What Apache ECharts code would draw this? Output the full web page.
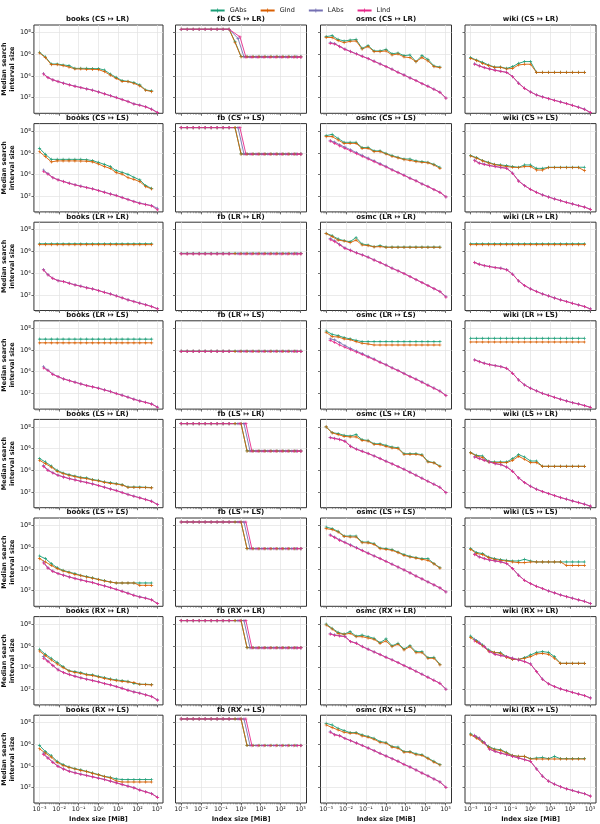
<!DOCTYPE html>
<html>
<head>
<meta charset="utf-8">
<script src="https://cdn.jsdelivr.net/npm/echarts@6/dist/echarts.min.js"></script>
<style>
html, body { margin: 0; padding: 0; background: #fff; }
#main { width: 600px; height: 824px; }
</style>
</head>
<body>
<div id="main"></div>
<script>
// index sizes [MiB]
var xsG = [0.001, 0.002, 0.004, 0.008, 0.016, 0.032, 0.064, 0.128, 0.256, 0.512, 1.024, 2.048, 4.096, 8.192, 16.384, 32.768, 65.536, 131.072, 262.144, 524.288, 1048.576];
var xsL = [0.0016, 0.0027, 0.0048, 0.0088, 0.017, 0.033, 0.065, 0.129, 0.257, 0.513, 1.025, 2.05, 4.1, 8.19, 16.4, 32.8, 65.5, 131, 262, 524, 1048];
var xsFbLAbs = [0.001, 0.002, 0.004, 0.008, 0.016, 0.032, 0.064, 0.128, 0.256, 0.72, 1.44, 2.9, 5.8, 11.5, 23, 46, 92, 184, 368, 620, 1048.576];
var xsFbLInd = [0.001, 0.002, 0.004, 0.008, 0.016, 0.032, 0.064, 0.128, 0.256, 0.9, 1.8, 3.6, 7.2, 14.4, 29, 58, 115, 230, 460, 720, 1048.576];

var xTicks = [0.001, 0.01, 0.1, 1, 10, 100, 1000];
var yTicks = [100, 1e4, 1e6, 1e8];

// ---- books ----
var books_CS_LR_GAbs = [1.5e6, 5.6e5, 1.26e5, 1.26e5, 1.02e5, 8.9e4, 5.0e4, 5.0e4, 5.0e4, 4.7e4, 4.7e4, 3.5e4, 1.5e4, 7.4e3, 3.7e3, 3.2e3, 2.4e3, 1.5e3, 5.1e2, 4.2e2];
var books_CS_LR_GInd = [1.3e6, 4.8e5, 1.1e5, 1.1e5, 8.9e4, 6.6e4, 4.4e4, 4.4e4, 4.1e4, 4.1e4, 3.8e4, 2.5e4, 1.2e4, 6.0e3, 3.2e3, 3.0e3, 2.1e3, 1.2e3, 4.8e2, 3.6e2];
var books_CS_LR_LAbs = [1.6e4, 7.2e3, 4.4e3, 3.1e3, 2.2e3, 1.55e3, 1.15e3, 8.6e2, 6.5e2, 4.9e2, 3.4e2, 2.3e2, 1.55e2, 1.05e2, 68, 45, 27, 21, 14.5, 9, 4.4];
var books_CS_LR_LInd = [1.5e4, 6.9e3, 4.3e3, 3.0e3, 2.1e3, 1.5e3, 1.1e3, 8.4e2, 6.3e2, 4.8e2, 3.3e2, 2.2e2, 1.5e2, 1.0e2, 66, 43, 26, 20, 14, 8.5, 4.2];
var books_CS_LS_GAbs = [2.6e6, 7.2e5, 2.5e5, 2.5e5, 2.5e5, 2.5e5, 2.5e5, 2.5e5, 2.3e5, 1.9e5, 1.3e5, 8.7e4, 5.4e4, 2.3e4, 1.6e4, 1.05e4, 5.6e3, 3.2e3, 9.5e2, 5.4e2];
var books_CS_LS_GInd = [1.26e6, 4.4e5, 1.45e5, 1.8e5, 1.8e5, 1.8e5, 1.8e5, 1.75e5, 1.7e5, 1.45e5, 9.3e4, 5.4e4, 3.7e4, 1.5e4, 1.1e4, 5.1e3, 3.6e3, 2.2e3, 7.8e2, 4.7e2];
var books_CS_LS_LAbs = [2.6e4, 1.2e4, 5.3e3, 3.3e3, 2.3e3, 1.6e3, 1.15e3, 8.6e2, 6.4e2, 4.9e2, 3.4e2, 2.4e2, 1.65e2, 1.2e2, 78, 52, 34, 24, 18, 14, 7.8];
var books_CS_LS_LInd = [1.9e4, 1.1e4, 5.1e3, 3.2e3, 2.2e3, 1.55e3, 1.1e3, 8.3e2, 6.2e2, 4.7e2, 3.3e2, 2.3e2, 1.6e2, 1.15e2, 74, 49, 32, 22, 17, 13, 5.5];
var books_LR_LR_GAbs = [5.1e6, 5.1e6, 5.1e6, 5.1e6, 5.1e6, 5.1e6, 5.1e6, 5.1e6, 5.1e6, 5.1e6, 5.1e6, 5.1e6, 5.1e6, 5.1e6, 5.1e6, 5.1e6, 5.1e6, 5.1e6, 5.1e6, 5.1e6];
var books_LR_LR_GInd = [4.2e6, 4.2e6, 4.2e6, 4.2e6, 4.2e6, 4.2e6, 4.2e6, 4.2e6, 4.2e6, 4.2e6, 4.2e6, 4.2e6, 4.2e6, 4.2e6, 4.2e6, 4.2e6, 4.2e6, 4.2e6, 4.2e6, 4.2e6];
var books_LR_LR_LAbs = [2.1e4, 7.2e3, 3.4e3, 2.05e3, 1.7e3, 1.2e3, 8.4e2, 6.4e2, 4.6e2, 3.6e2, 2.5e2, 1.75e2, 1.25e2, 82, 54, 35, 25, 17.5, 12.5, 8.6, 5.3];
var books_LR_LR_LInd = [1.95e4, 6.8e3, 3.3e3, 2.0e3, 1.65e3, 1.15e3, 8.1e2, 6.2e2, 4.4e2, 3.5e2, 2.45e2, 1.7e2, 1.2e2, 79, 52, 34, 24, 17, 12, 8.3, 5.1];
var books_LR_LS_GAbs = [1.0e7, 1.0e7, 1.0e7, 1.0e7, 1.0e7, 1.0e7, 1.0e7, 1.0e7, 1.0e7, 1.0e7, 1.0e7, 1.0e7, 1.0e7, 1.0e7, 1.0e7, 1.0e7, 1.0e7, 1.0e7, 1.0e7, 1.0e7];
var books_LR_LS_GInd = [4.6e6, 4.6e6, 4.6e6, 4.6e6, 4.6e6, 4.6e6, 4.6e6, 4.6e6, 4.6e6, 4.6e6, 4.6e6, 4.6e6, 4.6e6, 4.6e6, 4.6e6, 4.6e6, 4.6e6, 4.6e6, 4.6e6, 4.6e6];
var books_LR_LS_LAbs = [2.9e4, 1.4e4, 6.0e3, 3.6e3, 2.2e3, 1.55e3, 1.1e3, 7.7e2, 5.4e2, 4.1e2, 3.1e2, 2.15e2, 1.55e2, 1.0e2, 70, 46, 30, 21, 15.5, 11, 5.6];
var books_LR_LS_LInd = [2.2e4, 1.3e4, 5.8e3, 3.5e3, 2.15e3, 1.5e3, 1.07e3, 7.5e2, 5.2e2, 4.0e2, 3.0e2, 2.1e2, 1.5e2, 97, 68, 45, 29, 20, 15, 10.5, 5.4];
var books_LS_LR_GAbs = [1.2e5, 5.9e4, 2.5e4, 1.0e4, 5.7e3, 4.0e3, 3.0e3, 2.3e3, 2.0e3, 1.4e3, 1.2e3, 8.5e2, 7.4e2, 6.0e2, 4.8e2, 2.9e2, 2.9e2, 2.9e2, 2.75e2, 2.6e2];
var books_LS_LR_GInd = [8.4e4, 4.1e4, 2.0e4, 8.1e3, 5.0e3, 3.5e3, 2.6e3, 2.0e3, 1.7e3, 1.3e3, 1.05e3, 7.9e2, 6.3e2, 5.5e2, 4.4e2, 2.75e2, 2.75e2, 2.6e2, 2.6e2, 2.4e2];
var books_LS_LR_LAbs = [2.9e4, 1.05e4, 6.0e3, 3.6e3, 2.5e3, 1.75e3, 1.35e3, 1.0e3, 7.6e2, 5.7e2, 4.0e2, 2.85e2, 1.95e2, 1.4e2, 92, 61, 42, 30, 21, 14.5, 7.3];
var books_LS_LR_LInd = [2.2e4, 1.0e4, 5.7e3, 3.5e3, 2.4e3, 1.7e3, 1.3e3, 9.8e2, 7.4e2, 5.5e2, 3.9e2, 2.75e2, 1.9e2, 1.35e2, 89, 59, 41, 29, 20, 14, 7.1];
var books_LS_LS_GAbs = [1.55e5, 8.9e4, 3.1e4, 1.3e4, 7.4e3, 5.2e3, 3.7e3, 2.6e3, 1.95e3, 1.5e3, 1.1e3, 8.4e2, 6.3e2, 5.1e2, 5.1e2, 5.1e2, 5.1e2, 5.1e2, 5.1e2, 5.1e2];
var books_LS_LS_GInd = [8.9e4, 4.4e4, 2.1e4, 1.07e4, 6.5e3, 4.6e3, 3.2e3, 2.4e3, 1.8e3, 1.4e3, 1.05e3, 7.8e2, 6.3e2, 5.1e2, 5.1e2, 5.1e2, 5.1e2, 3.1e2, 3.1e2, 3.1e2];
var books_LS_LS_LAbs = [4.4e4, 1.25e4, 6.2e3, 3.8e3, 2.7e3, 1.85e3, 1.35e3, 1.0e3, 7.4e2, 5.7e2, 3.9e2, 2.8e2, 1.95e2, 1.35e2, 90, 59, 38, 27, 21, 14.5, 6.6];
var books_LS_LS_LInd = [3.5e4, 1.2e4, 6.0e3, 3.7e3, 2.6e3, 1.8e3, 1.3e3, 9.6e2, 7.2e2, 5.5e2, 3.8e2, 2.7e2, 1.9e2, 1.3e2, 87, 57, 37, 26, 20, 14, 6.4];
var books_RX_LR_GAbs = [4.8e5, 1.65e5, 7.1e4, 3.0e4, 1.2e4, 5.1e3, 4.2e3, 3.4e3, 2.4e3, 2.1e3, 1.55e3, 1.2e3, 8.9e2, 7.2e2, 6.2e2, 5.4e2, 3.5e2, 2.9e2, 2.9e2, 2.7e2];
var books_RX_LR_GInd = [3.3e5, 1.25e5, 5.0e4, 2.1e4, 9.8e3, 4.8e3, 3.6e3, 2.9e3, 2.1e3, 1.8e3, 1.35e3, 1.0e3, 7.8e2, 6.2e2, 5.4e2, 4.7e2, 4.1e2, 2.9e2, 2.7e2, 2.5e2];
var books_RX_LR_LAbs = [1.0e5, 4.0e4, 1.6e4, 6.3e3, 3.5e3, 2.3e3, 1.6e3, 1.15e3, 8.6e2, 6.5e2, 4.9e2, 3.4e2, 2.6e2, 1.8e2, 1.25e2, 84, 58, 45, 31, 22, 10.5];
var books_RX_LR_LInd = [7.1e4, 3.5e4, 1.5e4, 6.0e3, 3.4e3, 2.2e3, 1.55e3, 1.1e3, 8.3e2, 6.2e2, 4.7e2, 3.3e2, 2.5e2, 1.75e2, 1.2e2, 80, 56, 43, 30, 21, 10];
var books_RX_LS_GAbs = [7.8e5, 2.1e5, 8.7e4, 2.6e4, 1.3e4, 7.8e3, 5.5e3, 4.2e3, 3.1e3, 2.2e3, 1.55e3, 1.07e3, 8.7e2, 6.2e2, 5.4e2, 5.4e2, 5.4e2, 5.4e2, 5.4e2, 5.4e2];
var books_RX_LS_GInd = [3.8e5, 1.5e5, 6.5e4, 2.1e4, 1.1e4, 7.3e3, 5.1e3, 3.8e3, 2.9e3, 2.0e3, 1.45e3, 1.0e3, 7.6e2, 4.0e2, 3.2e2, 3.2e2, 3.2e2, 3.2e2, 3.2e2, 3.2e2];
var books_RX_LS_LAbs = [1.5e5, 5.5e4, 2.2e4, 9.3e3, 5.2e3, 3.2e3, 2.3e3, 1.7e3, 1.3e3, 9.8e2, 7.4e2, 5.6e2, 3.9e2, 2.75e2, 1.9e2, 1.35e2, 95, 58, 40, 27, 12.5];
var books_RX_LS_LInd = [1.1e5, 5.2e4, 2.1e4, 8.9e3, 5.0e3, 3.1e3, 2.2e3, 1.65e3, 1.25e3, 9.4e2, 7.1e2, 5.4e2, 3.8e2, 2.65e2, 1.85e2, 1.3e2, 91, 56, 39, 26, 12];

// ---- fb ----
var fb_CS_LR_GAbs = [2e8, 2e8, 2e8, 2e8, 2e8, 2e8, 2e8, 2e8, 2e8, 1.4e7, 6.2e5, 6.2e5, 6.2e5, 6.2e5, 6.2e5, 6.2e5, 6.2e5, 6.2e5, 6.2e5, 6.2e5, 6.2e5];
var fb_CS_LR_GInd = [2e8, 2e8, 2e8, 2e8, 2e8, 2e8, 2e8, 2e8, 2e8, 1.2e7, 5.8e5, 5.8e5, 5.8e5, 5.8e5, 5.8e5, 5.8e5, 5.8e5, 5.8e5, 5.8e5, 5.8e5, 5.8e5];
var fb_CS_LR_LAbs = [2e8, 2e8, 2e8, 2e8, 2e8, 2e8, 2e8, 2e8, 2e8, 2.9e7, 5.6e5, 5.6e5, 5.6e5, 5.6e5, 5.6e5, 5.6e5, 5.6e5, 5.6e5, 5.6e5, 5.6e5, 5.6e5];
var fb_CS_LR_LInd = [2e8, 2e8, 2e8, 2e8, 2e8, 2e8, 2e8, 2e8, 2e8, 4e7, 5.4e5, 5.4e5, 5.4e5, 5.4e5, 5.4e5, 5.4e5, 5.4e5, 5.4e5, 5.4e5, 5.4e5, 5.4e5];
var fb_CS_LS_GAbs = [2.1e8, 2.1e8, 2.1e8, 2.1e8, 2.1e8, 2.1e8, 2.1e8, 2.1e8, 2.1e8, 2.1e8, 7.9e5, 7.9e5, 7.9e5, 7.9e5, 7.9e5, 7.9e5, 7.9e5, 7.9e5, 7.9e5, 7.9e5, 7.9e5];
var fb_CS_LS_GInd = [2.1e8, 2.1e8, 2.1e8, 2.1e8, 2.1e8, 2.1e8, 2.1e8, 2.1e8, 2.1e8, 2.1e8, 7.7e5, 7.7e5, 7.7e5, 7.7e5, 7.7e5, 7.7e5, 7.7e5, 7.7e5, 7.7e5, 7.7e5, 7.7e5];
var fb_CS_LS_LAbs = [2.1e8, 2.1e8, 2.1e8, 2.1e8, 2.1e8, 2.1e8, 2.1e8, 2.1e8, 2.1e8, 2.1e8, 7.7e5, 7.7e5, 7.7e5, 7.7e5, 7.7e5, 7.7e5, 7.7e5, 7.7e5, 7.7e5, 7.7e5, 7.7e5];
var fb_CS_LS_LInd = [2.1e8, 2.1e8, 2.1e8, 2.1e8, 2.1e8, 2.1e8, 2.1e8, 2.1e8, 2.1e8, 2.1e8, 7.6e5, 7.6e5, 7.6e5, 7.6e5, 7.6e5, 7.6e5, 7.6e5, 7.6e5, 7.6e5, 7.6e5, 7.6e5];
var fb_LR_LR_GAbs = [6.8e5, 6.8e5, 6.8e5, 6.8e5, 6.8e5, 6.8e5, 6.8e5, 6.8e5, 6.8e5, 6.8e5, 6.8e5, 6.8e5, 6.8e5, 6.8e5, 6.8e5, 6.8e5, 6.8e5, 6.8e5, 6.8e5, 6.8e5, 6.8e5];
var fb_LR_LR_GInd = [6.3e5, 6.3e5, 6.3e5, 6.3e5, 6.3e5, 6.3e5, 6.3e5, 6.3e5, 6.3e5, 6.3e5, 6.3e5, 6.3e5, 6.3e5, 6.3e5, 6.3e5, 6.3e5, 6.3e5, 6.3e5, 6.3e5, 6.3e5, 6.3e5];
var fb_LR_LR_LAbs = [6.2e5, 6.2e5, 6.2e5, 6.2e5, 6.2e5, 6.2e5, 6.2e5, 6.2e5, 6.2e5, 6.2e5, 6.2e5, 6.2e5, 6.2e5, 6.2e5, 6.2e5, 6.2e5, 6.2e5, 6.2e5, 6.2e5, 6.2e5, 6.2e5];
var fb_LR_LR_LInd = [6.0e5, 6.0e5, 6.0e5, 6.0e5, 6.0e5, 6.0e5, 6.0e5, 6.0e5, 6.0e5, 6.0e5, 6.0e5, 6.0e5, 6.0e5, 6.0e5, 6.0e5, 6.0e5, 6.0e5, 6.0e5, 6.0e5, 6.0e5, 6.0e5];
var fb_LR_LS_GAbs = [7.8e5, 7.8e5, 7.8e5, 7.8e5, 7.8e5, 7.8e5, 7.8e5, 7.8e5, 7.8e5, 7.8e5, 7.8e5, 7.8e5, 7.8e5, 7.8e5, 7.8e5, 7.8e5, 7.8e5, 7.8e5, 7.8e5, 7.8e5, 7.8e5];
var fb_LR_LS_GInd = [7.6e5, 7.6e5, 7.6e5, 7.6e5, 7.6e5, 7.6e5, 7.6e5, 7.6e5, 7.6e5, 7.6e5, 7.6e5, 7.6e5, 7.6e5, 7.6e5, 7.6e5, 7.6e5, 7.6e5, 7.6e5, 7.6e5, 7.6e5, 7.6e5];
var fb_LR_LS_LAbs = [7.6e5, 7.6e5, 7.6e5, 7.6e5, 7.6e5, 7.6e5, 7.6e5, 7.6e5, 7.6e5, 7.6e5, 7.6e5, 7.6e5, 7.6e5, 7.6e5, 7.6e5, 7.6e5, 7.6e5, 7.6e5, 7.6e5, 7.6e5, 7.6e5];
var fb_LR_LS_LInd = [7.5e5, 7.5e5, 7.5e5, 7.5e5, 7.5e5, 7.5e5, 7.5e5, 7.5e5, 7.5e5, 7.5e5, 7.5e5, 7.5e5, 7.5e5, 7.5e5, 7.5e5, 7.5e5, 7.5e5, 7.5e5, 7.5e5, 7.5e5, 7.5e5];
var fb_LS_LR_GAbs = [2e8, 2e8, 2e8, 2e8, 2e8, 2e8, 2e8, 2e8, 2e8, 2e8, 2e8, 6.2e5, 6.2e5, 6.2e5, 6.2e5, 6.2e5, 6.2e5, 6.2e5, 6.2e5, 6.2e5, 6.2e5];
var fb_LS_LR_GInd = [2e8, 2e8, 2e8, 2e8, 2e8, 2e8, 2e8, 2e8, 2e8, 2e8, 2e8, 6.0e5, 6.0e5, 6.0e5, 6.0e5, 6.0e5, 6.0e5, 6.0e5, 6.0e5, 6.0e5, 6.0e5];
var fb_LS_LR_LAbs = [2e8, 2e8, 2e8, 2e8, 2e8, 2e8, 2e8, 2e8, 2e8, 2e8, 2e8, 6.0e5, 6.0e5, 6.0e5, 6.0e5, 6.0e5, 6.0e5, 6.0e5, 6.0e5, 6.0e5, 6.0e5];
var fb_LS_LR_LInd = [2e8, 2e8, 2e8, 2e8, 2e8, 2e8, 2e8, 2e8, 2e8, 2e8, 2e8, 5.8e5, 5.8e5, 5.8e5, 5.8e5, 5.8e5, 5.8e5, 5.8e5, 5.8e5, 5.8e5, 5.8e5];
var fb_LS_LS_GAbs = [2.1e8, 2.1e8, 2.1e8, 2.1e8, 2.1e8, 2.1e8, 2.1e8, 2.1e8, 2.1e8, 2.1e8, 2.1e8, 7.5e5, 7.5e5, 7.5e5, 7.5e5, 7.5e5, 7.5e5, 7.5e5, 7.5e5, 7.5e5, 7.5e5];
var fb_LS_LS_GInd = [2.1e8, 2.1e8, 2.1e8, 2.1e8, 2.1e8, 2.1e8, 2.1e8, 2.1e8, 2.1e8, 2.1e8, 2.1e8, 7.4e5, 7.4e5, 7.4e5, 7.4e5, 7.4e5, 7.4e5, 7.4e5, 7.4e5, 7.4e5, 7.4e5];
var fb_LS_LS_LAbs = [2.1e8, 2.1e8, 2.1e8, 2.1e8, 2.1e8, 2.1e8, 2.1e8, 2.1e8, 2.1e8, 2.1e8, 2.1e8, 7.4e5, 7.4e5, 7.4e5, 7.4e5, 7.4e5, 7.4e5, 7.4e5, 7.4e5, 7.4e5, 7.4e5];
var fb_LS_LS_LInd = [2.1e8, 2.1e8, 2.1e8, 2.1e8, 2.1e8, 2.1e8, 2.1e8, 2.1e8, 2.1e8, 2.1e8, 2.1e8, 7.3e5, 7.3e5, 7.3e5, 7.3e5, 7.3e5, 7.3e5, 7.3e5, 7.3e5, 7.3e5, 7.3e5];
var fb_RX_LR_GAbs = [2.1e8, 2.1e8, 2.1e8, 2.1e8, 2.1e8, 2.1e8, 2.1e8, 2.1e8, 2.1e8, 2.1e8, 2.1e8, 6.8e5, 6.8e5, 6.8e5, 6.8e5, 6.8e5, 6.8e5, 6.8e5, 6.8e5, 6.8e5, 6.8e5];
var fb_RX_LR_GInd = [2.1e8, 2.1e8, 2.1e8, 2.1e8, 2.1e8, 2.1e8, 2.1e8, 2.1e8, 2.1e8, 2.1e8, 2.1e8, 6.7e5, 6.7e5, 6.7e5, 6.7e5, 6.7e5, 6.7e5, 6.7e5, 6.7e5, 6.7e5, 6.7e5];
var fb_RX_LR_LAbs = [2.1e8, 2.1e8, 2.1e8, 2.1e8, 2.1e8, 2.1e8, 2.1e8, 2.1e8, 2.1e8, 2.1e8, 2.1e8, 6.6e5, 6.6e5, 6.6e5, 6.6e5, 6.6e5, 6.6e5, 6.6e5, 6.6e5, 6.6e5, 6.6e5];
var fb_RX_LR_LInd = [2.1e8, 2.1e8, 2.1e8, 2.1e8, 2.1e8, 2.1e8, 2.1e8, 2.1e8, 2.1e8, 2.1e8, 2.1e8, 6.4e5, 6.4e5, 6.4e5, 6.4e5, 6.4e5, 6.4e5, 6.4e5, 6.4e5, 6.4e5, 6.4e5];
var fb_RX_LS_GAbs = [2.2e8, 2.2e8, 2.2e8, 2.2e8, 2.2e8, 2.2e8, 2.2e8, 2.2e8, 2.2e8, 2.2e8, 2.2e8, 7.8e5, 7.8e5, 7.8e5, 7.8e5, 7.8e5, 7.8e5, 7.8e5, 7.8e5, 7.8e5, 7.8e5];
var fb_RX_LS_GInd = [2.2e8, 2.2e8, 2.2e8, 2.2e8, 2.2e8, 2.2e8, 2.2e8, 2.2e8, 2.2e8, 2.2e8, 2.2e8, 7.7e5, 7.7e5, 7.7e5, 7.7e5, 7.7e5, 7.7e5, 7.7e5, 7.7e5, 7.7e5, 7.7e5];
var fb_RX_LS_LAbs = [2.2e8, 2.2e8, 2.2e8, 2.2e8, 2.2e8, 2.2e8, 2.2e8, 2.2e8, 2.2e8, 2.2e8, 2.2e8, 7.7e5, 7.7e5, 7.7e5, 7.7e5, 7.7e5, 7.7e5, 7.7e5, 7.7e5, 7.7e5, 7.7e5];
var fb_RX_LS_LInd = [2.2e8, 2.2e8, 2.2e8, 2.2e8, 2.2e8, 2.2e8, 2.2e8, 2.2e8, 2.2e8, 2.2e8, 2.2e8, 7.6e5, 7.6e5, 7.6e5, 7.6e5, 7.6e5, 7.6e5, 7.6e5, 7.6e5, 7.6e5, 7.6e5];

// ---- osmc ----
var osmc_CS_LR_GAbs = [4.2e7, 5.1e7, 2.3e7, 1.65e7, 2.0e7, 2.3e7, 3.5e6, 6.2e6, 2.0e6, 2.0e6, 2.8e6, 1.1e6, 1.3e6, 7.4e5, 8.5e5, 2.1e5, 7.4e5, 3.4e5, 8.3e4, 6.6e4];
var osmc_CS_LR_GInd = [3.6e7, 3.4e7, 1.8e7, 1.15e7, 1.55e7, 1.65e7, 3.0e6, 5.0e6, 1.75e6, 1.75e6, 2.0e6, 8.5e5, 1.05e6, 5.6e5, 4.8e5, 2.1e5, 4.8e5, 2.4e5, 7.2e4, 5.8e4];
var osmc_CS_LR_LAbs = [1.2e7, 9.5e6, 5.3e6, 3.0e6, 1.8e6, 1.1e6, 6.6e5, 4.0e5, 2.3e5, 1.3e5, 7.4e4, 4.2e4, 2.2e4, 1.25e4, 6.7e3, 3.8e3, 2.0e3, 1.15e3, 6.1e2, 3.2e2, 92];
var osmc_CS_LR_LInd = [1.0e7, 8.7e6, 5.0e6, 2.8e6, 1.7e6, 1.05e6, 6.4e5, 3.9e5, 2.2e5, 1.26e5, 7.2e4, 4.1e4, 2.1e4, 1.2e4, 6.5e3, 3.7e3, 1.95e3, 1.1e3, 5.9e2, 3.1e2, 90];
var osmc_CS_LS_GAbs = [3.8e7, 5.0e7, 2.1e7, 9.3e6, 9.3e6, 9.3e6, 3.0e6, 3.2e6, 1.5e6, 1.5e6, 8.9e5, 5.5e5, 3.9e5, 2.7e5, 2.7e5, 1.8e5, 1.55e5, 1.35e5, 8.7e4, 4.7e4];
var osmc_CS_LS_GInd = [3.1e7, 3.1e7, 1.5e7, 7.4e6, 7.4e6, 7.4e6, 2.6e6, 2.6e6, 1.3e6, 1.3e6, 7.8e5, 4.8e5, 3.4e5, 2.4e5, 2.0e5, 1.55e5, 1.35e5, 1.2e5, 7.6e4, 3.7e4];
var osmc_CS_LS_LAbs = [1.3e7, 9.7e6, 5.5e6, 3.3e6, 1.9e6, 1.05e6, 5.8e5, 3.2e5, 1.8e5, 1.0e5, 5.6e4, 2.9e4, 1.6e4, 9.0e3, 4.7e3, 2.7e3, 1.4e3, 8.0e2, 4.2e2, 2.35e2, 88];
var osmc_CS_LS_LInd = [1.2e7, 7.4e6, 4.3e6, 2.6e6, 1.5e6, 8.4e5, 4.8e5, 2.7e5, 1.55e5, 8.7e4, 5.0e4, 2.6e4, 1.5e4, 8.5e3, 4.5e3, 2.6e3, 1.35e3, 7.8e2, 4.1e2, 2.3e2, 87];
var osmc_LR_LR_GAbs = [4.7e7, 2.8e7, 1.4e7, 9.7e6, 7.9e6, 1.9e7, 4.8e6, 3.9e6, 2.7e6, 3.4e6, 2.5e6, 2.5e6, 2.5e6, 2.5e6, 2.5e6, 2.5e6, 2.5e6, 2.5e6, 2.5e6, 2.5e6];
var osmc_LR_LR_GInd = [4.4e7, 2.3e7, 1.1e7, 9.1e6, 6.4e6, 1.1e7, 3.9e6, 3.4e6, 2.6e6, 2.75e6, 2.4e6, 2.4e6, 2.4e6, 2.4e6, 2.4e6, 2.4e6, 2.4e6, 2.4e6, 2.4e6, 2.4e6];
var osmc_LR_LR_LAbs = [1.5e7, 9.5e6, 4.5e6, 2.1e6, 1.3e6, 7.6e5, 4.9e5, 3.0e5, 1.65e5, 9.5e4, 5.4e4, 2.9e4, 1.65e4, 9.3e3, 4.9e3, 2.55e3, 1.38e3, 7.3e2, 3.8e2, 2.05e2, 70];
var osmc_LR_LR_LInd = [1.2e7, 7.9e6, 3.9e6, 1.9e6, 1.2e6, 7.2e5, 4.7e5, 2.9e5, 1.6e5, 9.3e4, 5.3e4, 2.8e4, 1.6e4, 9.1e3, 4.8e3, 2.5e3, 1.35e3, 7.1e2, 3.7e2, 2.0e2, 62];
var osmc_LR_LS_GAbs = [5.6e7, 2.8e7, 2.1e7, 1.4e7, 1.05e7, 7.8e6, 5.9e6, 5.9e6, 5.9e6, 5.9e6, 5.9e6, 5.9e6, 5.9e6, 5.9e6, 5.9e6, 5.9e6, 5.9e6, 5.9e6, 5.9e6, 5.9e6];
var osmc_LR_LS_GInd = [4.3e7, 1.7e7, 1.6e7, 1.05e7, 8.9e6, 5.9e6, 4.2e6, 3.6e6, 2.9e6, 2.9e6, 2.9e6, 2.9e6, 2.9e6, 2.9e6, 2.9e6, 2.9e6, 2.9e6, 2.9e6, 2.9e6, 2.9e6];
var osmc_LR_LS_LAbs = [1.05e7, 8.5e6, 4.8e6, 2.5e6, 1.4e6, 8.1e5, 4.6e5, 2.6e5, 1.5e5, 7.9e4, 4.5e4, 2.35e4, 1.35e4, 7.1e3, 3.8e3, 2.15e3, 1.15e3, 6.0e2, 3.2e2, 1.7e2, 68];
var osmc_LR_LS_LInd = [7.8e6, 5.1e6, 2.9e6, 1.8e6, 1.07e6, 6.5e5, 4.0e5, 2.2e5, 1.3e5, 7.2e4, 4.2e4, 2.2e4, 1.25e4, 6.6e3, 3.5e3, 2.0e3, 1.07e3, 5.6e2, 3.0e2, 1.6e2, 63];
var osmc_LS_LR_GAbs = [1.0e8, 3.0e7, 2.4e7, 1.7e7, 1.45e7, 1.95e7, 6.6e6, 5.7e6, 2.8e6, 2.8e6, 2.0e6, 1.4e6, 1.2e6, 3.4e5, 3.4e5, 3.4e5, 2.75e5, 6.7e4, 5.1e4, 2.5e4];
var osmc_LS_LR_GInd = [1.0e8, 2.8e7, 1.95e7, 1.35e7, 1.2e7, 1.2e7, 5.7e6, 5.0e6, 2.5e6, 2.3e6, 1.6e6, 1.15e6, 1.0e6, 3.0e5, 3.0e5, 3.0e5, 2.4e5, 5.9e4, 4.8e4, 2.2e4];
var osmc_LS_LR_LAbs = [1.1e7, 9.0e6, 7.2e6, 5.0e6, 1.7e6, 9.2e5, 5.8e5, 3.6e5, 2.15e5, 1.25e5, 7.0e4, 4.0e4, 2.25e4, 1.28e4, 6.8e3, 3.6e3, 1.9e3, 1.0e3, 5.3e2, 2.8e2, 90];
var osmc_LS_LR_LInd = [1.0e7, 8.3e6, 6.7e6, 4.7e6, 1.6e6, 8.7e5, 5.6e5, 3.5e5, 2.1e5, 1.2e5, 6.8e4, 3.9e4, 2.2e4, 1.25e4, 6.6e3, 3.5e3, 1.85e3, 9.8e2, 5.2e2, 2.75e2, 89];
var osmc_LS_LS_GAbs = [7.2e7, 5.1e7, 2.9e7, 1.07e7, 1.07e7, 1.07e7, 3.0e6, 3.0e6, 2.1e6, 8.5e5, 7.4e5, 6.0e5, 3.6e5, 2.1e5, 1.45e5, 1.1e5, 8.9e4, 8.9e4, 3.1e4, 1.3e4];
var osmc_LS_LS_GInd = [5.1e7, 4.2e7, 2.5e7, 1.0e7, 8.7e6, 8.7e6, 2.6e6, 2.5e6, 1.85e6, 7.4e5, 6.4e5, 5.2e5, 3.2e5, 1.8e5, 1.25e5, 1.0e5, 7.7e4, 6.2e4, 2.9e4, 1.2e4];
var osmc_LS_LS_LAbs = [1.4e7, 8.5e6, 4.8e6, 2.9e6, 1.65e6, 9.3e5, 5.2e5, 2.9e5, 1.6e5, 9.2e4, 5.1e4, 2.75e4, 1.5e4, 8.2e3, 4.4e3, 2.25e3, 1.2e3, 6.4e2, 3.4e2, 1.8e2, 77];
var osmc_LS_LS_LInd = [1.25e7, 7.6e6, 4.3e6, 2.6e6, 1.5e6, 8.5e5, 4.8e5, 2.75e5, 1.55e5, 8.9e4, 5.0e4, 2.7e4, 1.5e4, 8.1e3, 4.3e3, 2.2e3, 1.2e3, 6.3e2, 3.4e2, 1.8e2, 76];
var osmc_RX_LR_GAbs = [1.0e8, 4.1e7, 1.75e7, 1.2e7, 2.0e7, 7.9e6, 9.6e6, 6.9e6, 4.9e6, 1.95e6, 4.3e6, 1.0e6, 1.7e6, 5.1e5, 1.05e6, 2.9e5, 2.9e5, 8.1e4, 8.7e4, 2.0e4];
var osmc_RX_LR_GInd = [8.3e7, 3.5e7, 1.4e7, 1.15e7, 1.4e7, 6.9e6, 6.9e6, 5.2e6, 4.0e6, 1.7e6, 2.75e6, 8.3e5, 1.4e6, 4.2e5, 8.3e5, 2.3e5, 2.3e5, 7.1e4, 7.1e4, 1.75e4];
var osmc_RX_LR_LAbs = [1.3e7, 1.0e7, 8.5e6, 7.3e6, 2.5e6, 1.8e6, 8.7e5, 5.0e5, 2.8e5, 1.6e5, 9.0e4, 5.2e4, 2.9e4, 1.55e4, 8.8e3, 4.6e3, 2.45e3, 1.3e3, 6.8e2, 3.6e2, 1.02e2];
var osmc_RX_LR_LInd = [1.2e7, 9.3e6, 8.0e6, 6.9e6, 2.4e6, 1.7e6, 8.3e5, 4.8e5, 2.7e5, 1.55e5, 8.7e4, 5.0e4, 2.8e4, 1.5e4, 8.5e3, 4.5e3, 2.4e3, 1.25e3, 6.6e2, 3.5e2, 1.0e2];
var osmc_RX_LS_GAbs = [8.7e7, 6.1e7, 3.0e7, 1.85e7, 1.2e7, 1.2e7, 7.4e6, 5.2e6, 3.6e6, 1.8e6, 1.45e6, 6.2e5, 5.4e5, 2.1e5, 2.1e5, 1.3e5, 1.07e5, 5.3e4, 2.6e4, 1.3e4];
var osmc_RX_LS_GInd = [6.1e7, 3.5e7, 2.1e7, 1.3e7, 1.05e7, 1.05e7, 6.0e6, 4.5e6, 2.9e6, 1.45e6, 1.25e6, 5.4e5, 4.3e5, 1.85e5, 1.85e5, 1.07e5, 9.3e4, 4.6e4, 2.2e4, 1.2e4];
var osmc_RX_LS_LAbs = [1.5e7, 8.0e6, 6.3e6, 3.6e6, 2.2e6, 1.33e6, 8.0e5, 4.6e5, 2.6e5, 1.45e5, 8.3e4, 4.7e4, 2.7e4, 1.4e4, 8.0e3, 4.2e3, 2.2e3, 1.2e3, 6.2e2, 3.3e2, 1.04e2];
var osmc_RX_LS_LInd = [1.3e7, 7.4e6, 6.0e6, 3.4e6, 2.1e6, 1.27e6, 7.7e5, 4.4e5, 2.5e5, 1.4e5, 8.0e4, 4.5e4, 2.6e4, 1.35e4, 7.7e3, 4.1e3, 2.15e3, 1.15e3, 6.0e2, 3.2e2, 1.02e2];

// ---- wiki ----
var wiki_CS_LR_GAbs = [4.8e5, 2.9e5, 1.8e5, 1.02e5, 6.6e4, 6.6e4, 5.0e4, 7.2e4, 1.45e5, 2.1e5, 2.1e5, 2.1e4, 2.1e4, 2.1e4, 2.1e4, 2.1e4, 2.1e4, 2.1e4, 2.1e4, 2.1e4];
var wiki_CS_LR_GInd = [4.2e5, 2.6e5, 1.45e5, 8.9e4, 6.2e4, 6.2e4, 4.4e4, 5.0e4, 1.02e5, 1.2e5, 1.2e5, 2.1e4, 2.1e4, 2.1e4, 2.1e4, 2.1e4, 2.1e4, 2.1e4, 2.1e4, 2.1e4];
var wiki_CS_LR_LAbs = [1.3e5, 8.6e4, 6.0e4, 4.5e4, 3.4e4, 2.7e4, 2.15e4, 8.8e3, 2.2e3, 7.4e2, 3.4e2, 1.8e2, 1.2e2, 83, 58, 41, 29, 20, 13.5, 8.8, 4.4];
var wiki_CS_LR_LInd = [1.2e5, 8.3e4, 5.8e4, 4.4e4, 3.3e4, 2.65e4, 2.1e4, 8.5e3, 2.1e3, 7.2e2, 3.3e2, 1.75e2, 1.15e2, 81, 56, 40, 28, 19.5, 13, 8.5, 4.2];
var wiki_CS_LS_GAbs = [5.5e5, 3.6e5, 1.95e5, 1.35e5, 8.7e4, 7.6e4, 6.6e4, 5.4e4, 4.7e4, 7.6e4, 7.6e4, 3.7e4, 3.7e4, 4.7e4, 4.7e4, 4.7e4, 4.7e4, 4.7e4, 4.7e4, 4.7e4];
var wiki_CS_LS_GInd = [5.1e5, 3.2e5, 1.8e5, 1.15e5, 8.1e4, 6.6e4, 5.4e4, 4.7e4, 4.4e4, 5.4e4, 5.4e4, 2.6e4, 2.6e4, 4.4e4, 4.4e4, 4.4e4, 4.4e4, 4.4e4, 4.4e4, 2.3e4];
var wiki_CS_LS_LAbs = [2.1e5, 1.15e5, 9.0e4, 6.9e4, 5.6e4, 4.6e4, 3.85e4, 1.35e4, 2.6e3, 9.6e2, 4.4e2, 2.35e2, 1.35e2, 87, 58, 40, 28, 20, 14, 10.3, 6.4];
var wiki_CS_LS_LInd = [1.85e5, 1.1e5, 8.6e4, 6.6e4, 5.4e4, 4.4e4, 3.7e4, 1.3e4, 2.5e3, 9.3e2, 4.3e2, 2.3e2, 1.3e2, 85, 56, 39, 27, 19.5, 13.5, 10, 6.2];
var wiki_LR_LR_GAbs = [5.1e6, 5.1e6, 5.1e6, 5.1e6, 5.1e6, 5.1e6, 5.1e6, 5.1e6, 5.1e6, 5.1e6, 5.1e6, 5.1e6, 5.1e6, 5.1e6, 5.1e6, 5.1e6, 5.1e6, 5.1e6, 5.1e6, 5.1e6];
var wiki_LR_LR_GInd = [4.2e6, 4.2e6, 4.2e6, 4.2e6, 4.2e6, 4.2e6, 4.2e6, 4.2e6, 4.2e6, 4.2e6, 4.2e6, 4.2e6, 4.2e6, 4.2e6, 4.2e6, 4.2e6, 4.2e6, 4.2e6, 4.2e6, 4.2e6];
var wiki_LR_LR_LAbs = [9.6e4, 6.7e4, 5.0e4, 4.1e4, 3.3e4, 2.9e4, 2.1e4, 8.1e3, 1.95e3, 7.3e2, 3.6e2, 2.05e2, 1.23e2, 81, 52, 35, 24.5, 17, 12, 8.5, 5.1];
var wiki_LR_LR_LInd = [9.3e4, 6.5e4, 4.9e4, 4.0e4, 3.2e4, 2.8e4, 2.0e4, 7.9e3, 1.9e3, 7.1e2, 3.5e2, 2.0e2, 1.2e2, 79, 51, 34, 24, 16.6, 11.7, 8.3, 5.0];
var wiki_LR_LS_GAbs = [1.2e7, 1.2e7, 1.2e7, 1.2e7, 1.2e7, 1.2e7, 1.2e7, 1.2e7, 1.2e7, 1.2e7, 1.2e7, 1.2e7, 1.2e7, 1.2e7, 1.2e7, 1.2e7, 1.2e7, 1.2e7, 1.2e7, 1.2e7];
var wiki_LR_LS_GInd = [5.5e6, 5.5e6, 5.5e6, 5.5e6, 5.5e6, 5.5e6, 5.5e6, 5.5e6, 5.5e6, 5.5e6, 5.5e6, 5.5e6, 5.5e6, 5.5e6, 5.5e6, 5.5e6, 5.5e6, 5.5e6, 5.5e6, 5.5e6];
var wiki_LR_LS_LAbs = [1.25e5, 8.7e4, 6.2e4, 4.6e4, 3.7e4, 3.0e4, 2.1e4, 7.3e3, 1.8e3, 6.1e2, 3.1e2, 1.75e2, 1.03e2, 69, 45, 30, 20.5, 14.3, 11, 7.8, 5.4];
var wiki_LR_LS_LInd = [1.2e5, 8.5e4, 6.0e4, 4.5e4, 3.6e4, 2.9e4, 2.05e4, 7.1e3, 1.75e3, 6.0e2, 3.0e2, 1.7e2, 1.0e2, 67, 44, 29, 20, 14, 10.7, 7.6, 5.3];
var wiki_LS_LR_GAbs = [4.3e5, 2.4e5, 2.1e5, 6.7e4, 5.9e4, 5.9e4, 5.9e4, 1.2e5, 2.8e5, 1.7e5, 7.2e4, 7.2e4, 2.35e4, 2.35e4, 2.35e4, 2.35e4, 2.35e4, 2.35e4, 2.35e4, 2.35e4];
var wiki_LS_LR_GInd = [4.0e5, 2.1e5, 1.5e5, 5.9e4, 5.1e4, 5.1e4, 5.1e4, 8.3e4, 1.95e5, 1.05e5, 5.1e4, 5.1e4, 2.35e4, 2.35e4, 2.35e4, 2.35e4, 2.35e4, 2.35e4, 2.35e4, 2.35e4];
var wiki_LS_LR_LAbs = [1.75e5, 1.25e5, 8.6e4, 6.1e4, 4.2e4, 3.4e4, 2.05e4, 8.3e3, 2.05e3, 7.6e2, 3.5e2, 1.85e2, 1.13e2, 74, 48, 32, 22.5, 15.4, 11, 7.8, 5.1];
var wiki_LS_LR_LInd = [1.7e5, 1.2e5, 8.3e4, 5.9e4, 4.1e4, 3.3e4, 2.0e4, 8.1e3, 2.0e3, 7.4e2, 3.4e2, 1.8e2, 1.1e2, 72, 47, 31, 22, 15, 10.7, 7.6, 5.0];
var wiki_LS_LS_GAbs = [7.4e5, 3.2e5, 2.6e5, 1.26e5, 8.9e4, 7.2e4, 6.2e4, 5.4e4, 5.4e4, 7.7e4, 5.4e4, 4.4e4, 4.4e4, 4.4e4, 4.4e4, 4.4e4, 4.4e4, 4.4e4, 4.4e4, 4.4e4];
var wiki_LS_LS_GInd = [6.4e5, 2.6e5, 2.1e5, 1.1e5, 7.7e4, 6.2e4, 5.4e4, 4.4e4, 3.8e4, 3.8e4, 4.4e4, 4.4e4, 4.4e4, 4.4e4, 4.4e4, 4.4e4, 2.1e4, 2.1e4, 2.1e4, 2.1e4];
var wiki_LS_LS_LAbs = [2.3e5, 1.3e5, 9.2e4, 6.8e4, 5.6e4, 4.5e4, 3.2e4, 1.1e4, 2.7e3, 9.1e2, 4.5e2, 2.55e2, 1.58e2, 95, 63, 41, 28.5, 20.5, 14.3, 10.7, 6.4];
var wiki_LS_LS_LInd = [2.1e5, 1.26e5, 8.9e4, 6.6e4, 5.4e4, 4.4e4, 3.1e4, 1.07e4, 2.6e3, 8.9e2, 4.4e2, 2.5e2, 1.55e2, 93, 62, 40, 28, 20, 14, 10.5, 6.3];
var wiki_RX_LR_GAbs = [7.9e6, 3.0e6, 1.2e6, 4.2e5, 2.4e5, 2.4e5, 1.0e5, 5.7e4, 5.7e4, 8.1e4, 1.45e5, 2.5e5, 2.9e5, 2.5e5, 1.0e5, 2.45e4, 2.45e4, 2.45e4, 2.45e4, 2.45e4];
var wiki_RX_LR_GInd = [5.6e6, 2.4e6, 9.6e5, 3.3e5, 2.5e5, 2.0e5, 8.7e4, 5.7e4, 5.7e4, 7.1e4, 1.0e5, 1.8e5, 2.0e5, 1.65e5, 7.1e4, 2.45e4, 2.45e4, 2.45e4, 2.45e4, 2.45e4];
var wiki_RX_LR_LAbs = [4.0e6, 2.1e6, 8.8e5, 3.0e5, 1.7e5, 1.3e5, 1.03e5, 7.3e4, 5.1e4, 3.6e4, 2.15e4, 4.3e3, 8.5e2, 3.2e2, 1.8e2, 1.1e2, 76, 53, 37, 26.5, 16];
var wiki_RX_LR_LInd = [2.8e6, 1.7e6, 8.4e5, 2.9e5, 1.65e5, 1.25e5, 1.0e5, 7.1e4, 5.0e4, 3.5e4, 2.1e4, 4.2e3, 8.3e2, 3.1e2, 1.75e2, 1.07e2, 74, 52, 36, 26, 15.5];
var wiki_RX_LS_GAbs = [9.1e6, 4.5e6, 1.8e6, 6.3e5, 3.6e5, 3.1e5, 1.75e5, 9.3e4, 7.5e4, 7.5e4, 4.6e4, 5.3e4, 6.0e4, 4.6e4, 7.5e4, 4.6e4, 4.6e4, 4.6e4, 4.6e4, 4.6e4];
var wiki_RX_LS_GInd = [7.4e6, 3.6e6, 1.45e6, 5.4e5, 3.1e5, 2.7e5, 1.5e5, 8.7e4, 7.5e4, 7.5e4, 4.3e4, 4.3e4, 4.3e4, 4.3e4, 4.3e4, 4.3e4, 4.3e4, 4.3e4, 4.3e4, 4.3e4];
var wiki_RX_LS_LAbs = [6.5e6, 3.8e6, 1.5e6, 3.6e5, 2.2e5, 1.55e5, 1.1e5, 7.7e4, 5.4e4, 3.8e4, 2.65e4, 5.2e3, 1.12e3, 3.9e2, 2.05e2, 1.17e2, 75, 53, 37, 26.5, 16];
var wiki_RX_LS_LInd = [6.0e6, 3.6e6, 1.45e6, 3.5e5, 2.15e5, 1.5e5, 1.07e5, 7.5e4, 5.3e4, 3.7e4, 2.6e4, 5.1e3, 1.1e3, 3.8e2, 2.0e2, 1.15e2, 74, 52, 36, 26, 15.5];

var datasets = ['books', 'fb', 'osmc', 'wiki'];
var configs = ['CS_LR', 'CS_LS', 'LR_LR', 'LR_LS', 'LS_LR', 'LS_LS', 'RX_LR', 'RX_LS'];
var configLabels = ['CS ↦ LR', 'CS ↦ LS', 'LR ↦ LR', 'LR ↦ LS', 'LS ↦ LR', 'LS ↦ LS', 'RX ↦ LR', 'RX ↦ LS'];
var seriesNames = ['GAbs', 'GInd', 'LAbs', 'LInd'];
var colors = ['#1b9e77', '#d95f02', '#7570b3', '#e7298a'];

// layout
var colLeft = [32, 175.5, 320.5, 465];
var rowTop0 = 25, rowPitch = 98.6;
var cellW = 131, cellH = 88.3;
var FONT = 'DejaVu Sans';
var plusSymbol = 'path://M4,0H6V4H10V6H6V10H4V6H0V4H4Z';

var sup = {'-': '⁻', '0': '⁰', '1': '¹', '2': '²', '3': '³', '4': '⁴', '5': '⁵', '6': '⁶', '7': '⁷', '8': '⁸', '9': '⁹'};
function powLabel(v) {
    var e = Math.round(Math.log10(v));
    return '10' + String(e).split('').map(function (ch) { return sup[ch]; }).join('');
}

function xsFor(ds, s) {
    if (s.charAt(0) === 'G') return xsG;
    if (ds === 'fb') return s === 'LAbs' ? xsFbLAbs : xsFbLInd;
    return xsL;
}

var grids = [], xAxes = [], yAxes = [], series = [], graphics = [];

configs.forEach(function (cfg, r) {
    datasets.forEach(function (ds, c) {
        var i = r * 4 + c;
        var left = colLeft[c];
        var top = rowTop0 + r * rowPitch;
        grids.push({
            left: left, top: top, width: cellW, height: cellH,
            show: true, borderColor: '#333', borderWidth: 1, backgroundColor: 'transparent'
        });
        xAxes.push({
            gridIndex: i, type: 'log', logBase: 10, min: 5.2e-4, max: 2000,
            axisLine: {show: false},
            axisTick: {show: true, length: 2.5, customValues: xTicks, lineStyle: {color: '#333', width: 0.7}},
            minorTick: {show: true, splitNumber: 9, length: 1.4, lineStyle: {color: '#666', width: 0.5}},
            axisLabel: {show: r === 7, customValues: xTicks, formatter: powLabel, fontSize: 6.3, color: '#222', margin: 3, fontFamily: FONT},
            splitLine: {show: true, lineStyle: {color: '#e2e2e2', width: 0.7}},
            name: r === 7 ? 'Index size [MiB]' : '',
            nameLocation: 'middle', nameGap: 13,
            nameTextStyle: {fontSize: 6.5, fontWeight: 'bold', color: '#111', fontFamily: FONT}
        });
        yAxes.push({
            gridIndex: i, type: 'log', logBase: 10, min: 3.63, max: 4.9e8,
            axisLine: {show: false},
            axisTick: {show: true, length: 2.5, customValues: yTicks, lineStyle: {color: '#333', width: 0.7}},
            axisLabel: {show: c === 0, customValues: yTicks, formatter: powLabel, fontSize: 6.6, color: '#222', margin: 3, fontFamily: FONT},
            splitLine: {show: true, lineStyle: {color: '#e2e2e2', width: 0.7}},
            name: c === 0 ? 'Median search\ninterval size' : '',
            nameLocation: 'middle', nameGap: 13.5, nameRotate: 90,
            nameTextStyle: {fontSize: 6.5, fontWeight: 'bold', color: '#111', lineHeight: 7.5, fontFamily: FONT}
        });
        graphics.push({
            type: 'text', x: left + cellW / 2, y: top - 5.5,
            style: {text: ds + ' (' + configLabels[r] + ')', font: 'bold 7px "DejaVu Sans"', fill: '#111', align: 'center', verticalAlign: 'middle'}
        });
        seriesNames.forEach(function (s, k) {
            var vals = window[ds + '_' + cfg + '_' + s];
            var xs = xsFor(ds, s);
            series.push({
                type: 'line', name: s, xAxisIndex: i, yAxisIndex: i,
                data: vals.map(function (v, j) { return [xs[j], v]; }),
                symbol: plusSymbol, symbolSize: 3.2, showSymbol: true,
                lineStyle: {width: 0.9, color: colors[k]},
                itemStyle: {color: colors[k]},
                emphasis: {disabled: true}, silent: true
            });
        });
    });
});

var myChart = echarts.init(document.getElementById('main'));
myChart.setOption({
    animation: false,
    color: colors,
    textStyle: {fontFamily: FONT},
    legend: {
        top: 2, left: 'center', itemWidth: 14, itemHeight: 5, itemGap: 13,
        textStyle: {fontSize: 6.5, color: '#222', fontFamily: FONT},
        data: seriesNames
    },
    grid: grids,
    xAxis: xAxes,
    yAxis: yAxes,
    series: series,
    graphic: graphics
});
</script>
</body>
</html>
